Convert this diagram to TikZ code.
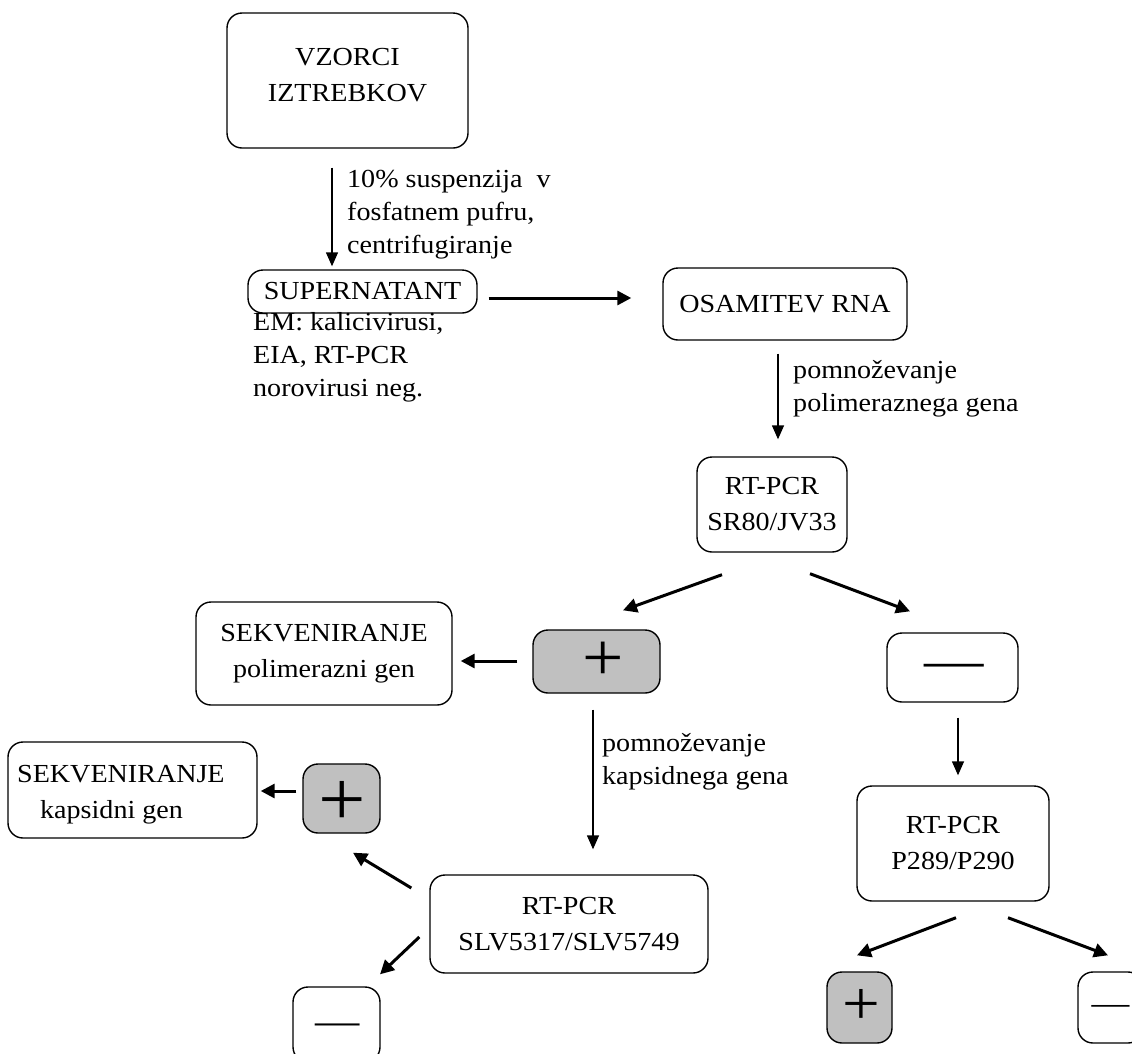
\documentclass[tikz,border=0pt]{standalone}
\usepackage{fontspec}
\setmainfont{Liberation Serif}[FakeStretch=1.08]
\usetikzlibrary{arrows.meta}
\definecolor{pgray}{RGB}{192,192,192}
\begin{document}
\begin{tikzpicture}[x=1pt,y=1pt,
  box/.style={draw=black, line width=1.4pt, rounded corners=15pt, inner sep=0pt, rectangle},
  txt/.style={font=\fontsize{26}{36}\selectfont, align=center, inner sep=0pt},
  lab/.style={font=\fontsize{26}{33}\selectfont, align=left, anchor=west, inner sep=0pt},
  sym/.style={inner sep=0pt},
  arr/.style={line width=1.4pt, -{Triangle[length=14pt,width=12pt]}},
  tarr/.style={line width=3pt, -{Triangle[length=14pt,width=14pt]}}]
\clip (0,0) rectangle (1132,-1053);
\fill[white] (0,0) rectangle (1132,-1053);

% boxes
\node[box, minimum width=241pt, minimum height=135pt] (vz) at (347.5,-80.5) {};
\node[txt] (vzt) at (347.5,-75) {VZORCI\\IZTREBKOV};
\node[box, txt, minimum width=229pt, minimum height=43pt] (sup) at (362.5,-291.5) {SUPERNATANT};
\node[box, txt, minimum width=244pt, minimum height=72pt] (osa) at (785,-304) {OSAMITEV RNA};
\node[box, txt, minimum width=150pt, minimum height=95pt] (sr) at (772,-504.5) {RT-PCR\\SR80/JV33};
\node[box, txt, minimum width=256pt, minimum height=103pt] (sekp) at (324,-653.5) {SEKVENIRANJE\\polimerazni gen};
\node[box, fill=pgray, minimum width=127pt, minimum height=63pt] (plusA) at (596.5,-661.5) {};
\node[sym, font=\fontsize{68}{68}\selectfont] (plusAt) at (603,-661) {+};
\node[box, minimum width=131pt, minimum height=69pt] (minusA) at (952.5,-667.5) {};
\node[sym, font=\fontsize{55}{55}\selectfont, text height=24.75pt, text depth=0pt] (minusAt) at (954.5,-666) {—};
\node[box, minimum width=249pt, minimum height=96pt] (sekk) at (132.5,-790) {};
\node[txt, align=left, anchor=west] (sekkt) at (17,-795) {SEKVENIRANJE\\\hspace*{23pt}kapsidni gen};
\node[box, fill=pgray, minimum width=77pt, minimum height=69pt] (plusB) at (341.5,-798.5) {};
\node[sym, font=\fontsize{78}{78}\selectfont] (plusBt) at (342,-803) {+};
\node[box, txt, minimum width=278pt, minimum height=98pt] (slv) at (569,-924) {RT-PCR\\SLV5317/SLV5749};
\node[box, minimum width=87pt, minimum height=75pt] (minusB) at (336.5,-1024.5) {};
\node[sym, font=\fontsize{41}{41}\selectfont, text height=18.45pt, text depth=0pt] (minusBt) at (337.5,-1025) {—};
\node[box, txt, minimum width=192pt, minimum height=115pt] (p289) at (953,-843.5) {RT-PCR\\P289/P290};
\node[box, fill=pgray, minimum width=65pt, minimum height=71pt] (plusC) at (859.5,-1007.5) {};
\node[sym, font=\fontsize{62}{62}\selectfont] (plusCt) at (861,-1007) {+};
\node[box, minimum width=65pt, minimum height=71pt] (minusC) at (1110.5,-1007.5) {};
\node[sym, font=\fontsize{35}{35}\selectfont, text height=15.75pt, text depth=0pt] (minusCt) at (1110.5,-1007) {—};

% labels
\node[lab] (l1) at (347,-215) {10\% suspenzija~ v\\fosfatnem pufru,\\centrifugiranje};
\node[lab] (l2) at (253,-357) {EM: kalicivirusi,\\EIA, RT-PCR\\norovirusi neg.};
\node[lab] (l3) at (793,-388.5) {pomnoževanje\\polimeraznega gena};
\node[lab] (l4) at (602,-761.5) {pomnoževanje\\kapsidnega gena};

% connectors
\draw[arr] ([shift={(-15.5,-19)}]vz.south) -- ([shift={(-30.5,3)}]sup.north);
\draw[tarr] ([shift={(11,-6.5)}]sup.east) -- ([shift={(-31,6)}]osa.west);
\draw[arr] ([shift={(-7,-13)}]osa.south) -- ([shift={(6,17)}]sr.north);
\draw[tarr] ([shift={(-50,-22)}]sr.south) -- ([shift={(26.5,19)}]plusA.north);
\draw[tarr] ([shift={(38,-21)}]sr.south) -- ([shift={(-42.5,21)}]minusA.north);
\draw[tarr] ([shift={(-15,0.5)}]plusA.west) -- ([shift={(8,-7.5)}]sekp.east);
\draw[arr] ([shift={(-3.5,-16)}]plusA.south) -- ([shift={(24,25)}]slv.north);
\draw[arr] ([shift={(5.5,-15)}]minusA.south) -- ([shift={(5,10)}]p289.north);
\draw[tarr] ([shift={(-18,36)}]slv.west) -- ([shift={(11.5,-19)}]plusB.south);
\draw[tarr] ([shift={(-10,-13)}]slv.west) -- ([shift={(43.5,12)}]minusB.north);
\draw[tarr] ([shift={(-6,7.5)}]plusB.west) -- ([shift={(3,-1)}]sekk.east);
\draw[tarr] ([shift={(3,-16)}]p289.south) -- ([shift={(-2.5,16)}]plusC.north);
\draw[tarr] ([shift={(55,-16)}]p289.south) -- ([shift={(-2.5,16)}]minusC.north);
\end{tikzpicture}
\end{document}
